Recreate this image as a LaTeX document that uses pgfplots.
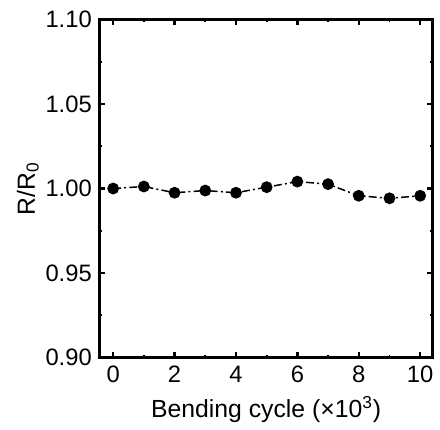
\documentclass[border=0pt]{standalone}
\usepackage{pgfplots}
\pgfplotsset{compat=1.18}
\usepackage{fontspec}
\setmainfont{Liberation Sans}
\begin{document}
\begin{tikzpicture}
\begin{axis}[
  scale only axis,
  width=168pt, height=170.5pt,
  xmin=-0.43, xmax=10.4,
  ymin=0.90, ymax=1.10,
  xtick={0,2,4,6,8,10},
  minor xtick={1,3,5,7,9},
  ytick={0.90,0.95,1.00,1.05,1.10},
  minor ytick={0.925,0.975,1.025,1.075},
  yticklabel style={/pgf/number format/fixed,/pgf/number format/fixed zerofill,/pgf/number format/precision=2},
  /pgf/number format/assume math mode=true,
  tick align=inside,
  major tick length=2.6pt,
  minor tick length=1.2pt,
  every major tick/.style={line width=1.3pt, black},
  every minor tick/.style={line width=1pt, black},
  axis line style={line width=1.5pt},
  ticklabel style={font=\fontsize{12}{14}\selectfont},
  xticklabel style={anchor=base, yshift=-13pt},
  yticklabel style={xshift=-0.6pt},
  xlabel={Bending cycle (×10\textsuperscript{3})},
  ylabel={R/R\textsubscript{0}},
  label style={font=\fontsize{12.5}{14}\selectfont},
  xlabel style={at={(axis description cs:0.5,-0.178)}, anchor=base},
  ylabel style={at={(axis description cs:-0.196,0.5)}, anchor=base},
]
\addplot[black, line width=0.75pt, dash pattern=on 4pt off 1.6pt on 1pt off 1.6pt,
  mark=*, mark size=2.6pt, mark options={solid}]
coordinates {
(0,1.0000) (1,1.0012) (2,0.9975) (3,0.9988) (4,0.9975) (5,1.0008)
(6,1.0041) (7,1.0026) (8,0.9957) (9,0.9942) (10,0.9957)
};
\end{axis}
\path (current axis.south west) ++(-50.5pt,-35.5pt) coordinate (bbA);
\path (current axis.north east) ++(1.5pt,10pt) coordinate (bbB);
\path (bbA) rectangle (bbB);
\end{tikzpicture}
\end{document}
